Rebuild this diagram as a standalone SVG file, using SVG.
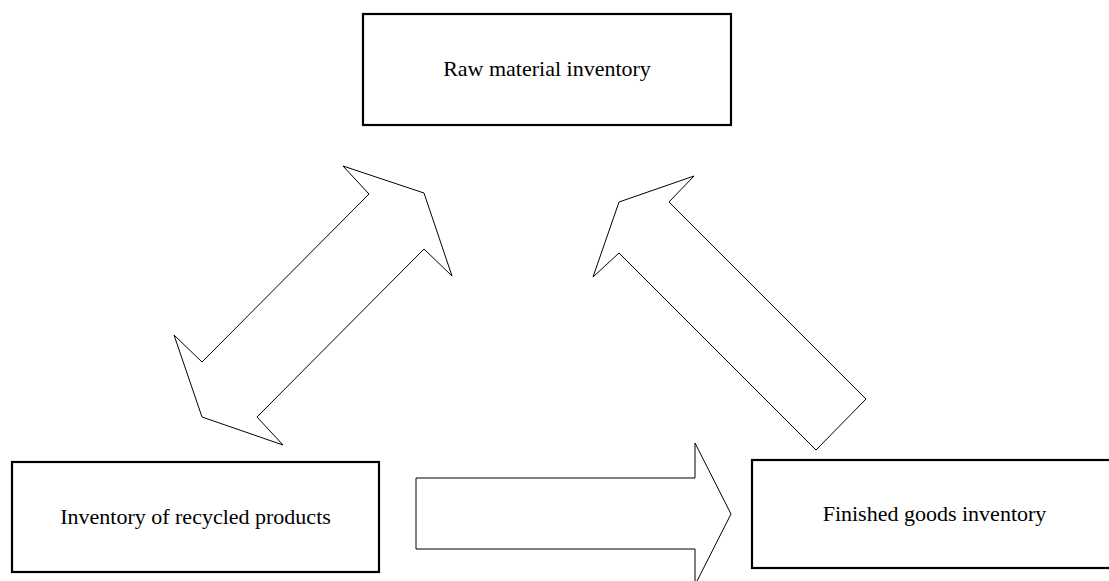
<svg xmlns="http://www.w3.org/2000/svg" width="1109" height="581" viewBox="0 0 1109 581">
  <style>
    .box { fill: #ffffff; stroke: #000000; stroke-width: 2.2; }
    .label { font-family: "Liberation Serif", "Times New Roman", serif; font-size: 22px; fill: #000000; text-anchor: middle; }
    .flow { fill: #ffffff; stroke: #000000; stroke-width: 1; stroke-linejoin: miter; }
  </style>
  <rect width="1109" height="581" fill="#ffffff"/>

  <!-- block arrows between the inventories -->
  <g id="connectors">
    <polygon class="flow" points="369,194 343,166 424,193 452,276 424,249 257,417 283,445 202,417 174,335 202,362"/>
    <polygon class="flow" points="694,176 669,202 866,399 816,450 619,253 593,277 619,202"/>
    <polygon class="flow" points="416,478 695,478 695,443 731,514 695,585 695,549 416,549"/>
  </g>

  <g id="raw-material">
    <rect class="box" x="363" y="14" width="368" height="111"/>
    <text class="label" x="547" y="76">Raw material inventory</text>
  </g>

  <g id="recycled-products">
    <rect class="box" x="12" y="462" width="367" height="110"/>
    <text class="label" x="195.5" y="524">Inventory of recycled products</text>
  </g>

  <g id="finished-goods">
    <rect class="box" x="752" y="460" width="365" height="108"/>
    <text class="label" x="934.5" y="521">Finished goods inventory</text>
  </g>
</svg>
